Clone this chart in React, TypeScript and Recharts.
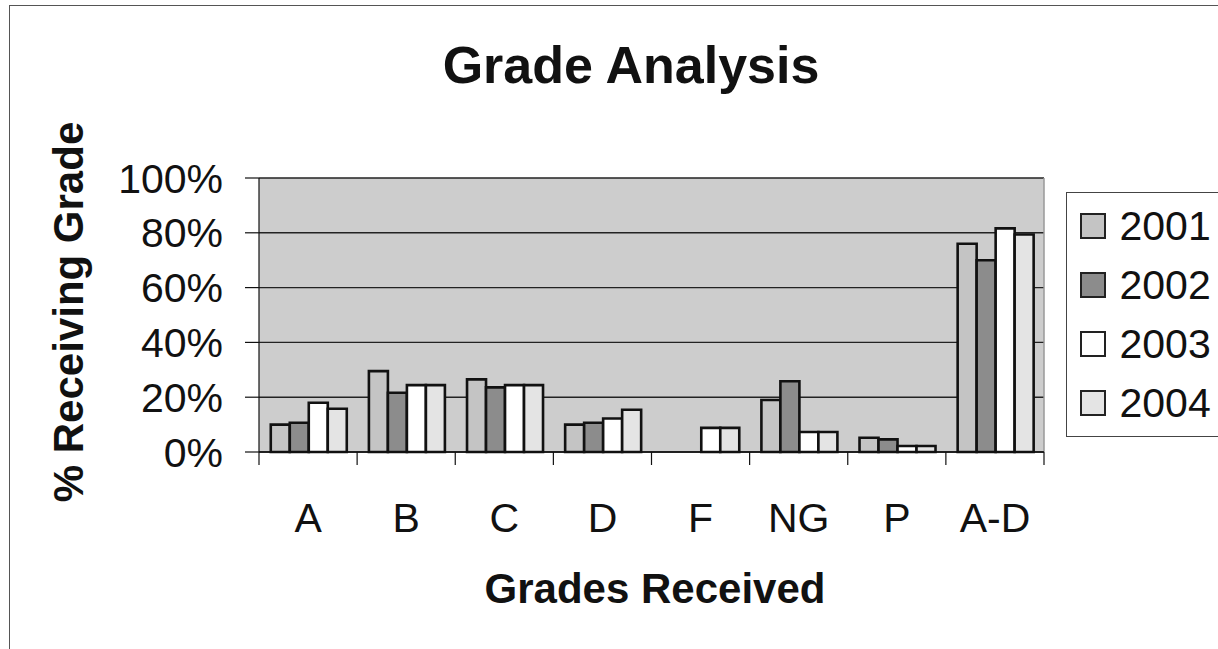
import React from 'react';
import { BarChart, Bar, XAxis, YAxis, CartesianGrid, Legend, ReferenceLine } from 'recharts';

const categories = ['A', 'B', 'C', 'D', 'F', 'NG', 'P', 'A-D'];
const series2001 = [10, 29.5, 26.5, 10, 0, 19, 5.2, 76];
const series2002 = [10.7, 21.6, 23.6, 10.7, 0, 25.8, 4.6, 70];
const series2003 = [18, 24.4, 24.4, 12.2, 8.8, 7.3, 2.2, 81.6];
const series2004 = [15.8, 24.4, 24.4, 15.4, 8.8, 7.3, 2.2, 79.4];
const seriesNames = ['2001', '2002', '2003', '2004'];
const seriesKeys = ['y2001', 'y2002', 'y2003', 'y2004'];
const seriesColors = ['#c4c4c4', '#8c8c8c', '#ffffff', '#e4e4e4'];
const yTicks = [0, 20, 40, 60, 80, 100];

const data = categories.map((grade, i) => ({
  grade,
  y2001: series2001[i],
  y2002: series2002[i],
  y2003: series2003[i],
  y2004: series2004[i],
}));

const FONT = '"Liberation Sans", Arial, Helvetica, sans-serif';
const TICK_MARGIN = 51;

const CategoryTick = (props: any) => {
  const { x, y, payload, width, visibleTicksCount, index } = props;
  const bw = payload && payload.offset ? payload.offset * 2 : width / visibleTicksCount;
  const axisY = y - TICK_MARGIN;
  return (
    <g>
      <line x1={x - bw / 2} x2={x - bw / 2} y1={axisY} y2={axisY + 13} stroke="#111" strokeWidth={1.2} />
      {index === visibleTicksCount - 1 && (
        <line x1={x + bw / 2} x2={x + bw / 2} y1={axisY} y2={axisY + 13} stroke="#111" strokeWidth={1.2} />
      )}
      <text x={x} y={y} dy="0.71em" textAnchor="middle" fontSize={41} fontFamily={FONT} fill="#111">
        {payload.value}
      </text>
    </g>
  );
};

const renderLegend = () => (
  <div
    style={{
      width: 200,
      height: 245,
      boxSizing: 'border-box',
      borderTop: '1.5px solid #444',
      borderLeft: '1.5px solid #444',
      borderBottom: '1.5px solid #444',
      background: '#fff',
      paddingTop: 3,
    }}
  >
    {seriesNames.map((n, i) => (
      <div key={n} style={{ height: 59, display: 'flex', alignItems: 'center' }}>
        <span
          style={{
            display: 'inline-block',
            width: 26,
            height: 26,
            boxSizing: 'border-box',
            border: '2px solid #222',
            background: seriesColors[i],
            marginLeft: 12.5,
          }}
        />
        <span style={{ marginLeft: 14, fontSize: 41, fontFamily: FONT, color: '#111', lineHeight: '40px' }}>{n}</span>
      </div>
    ))}
  </div>
);

export default function App() {
  return (
    <div style={{ position: 'absolute', left: 0, top: 0, width: 1218, height: 649, overflow: 'hidden', background: '#fff' }}>
      <div
        style={{
          position: 'absolute',
          left: 9,
          top: 5,
          width: 1300,
          height: 700,
          borderLeft: '1.5px solid #555',
          borderTop: '1.5px solid #555',
        }}
      />
      <BarChart
        width={1218}
        height={649}
        data={data}
        margin={{ top: 178, right: 174, bottom: 97, left: 0 }}
        barCategoryGap="12%"
        barGap={0}
        style={{ position: 'absolute', left: 0, top: 0 }}
      >
        <CartesianGrid vertical={false} fill="#cdcdcd" fillOpacity={1} stroke="#222" strokeWidth={1.4} />
        <XAxis
          dataKey="grade"
          height={100}
          interval={0}
          axisLine={{ stroke: '#111', strokeWidth: 1.4 }}
          tickLine={false}
          tickSize={0}
          tickMargin={TICK_MARGIN}
          tick={<CategoryTick />}
        />
        <YAxis
          width={259}
          domain={[0, 100]}
          ticks={yTicks}
          interval={0}
          tickFormatter={(v: number) => `${v}%`}
          tickSize={14}
          tickMargin={22}
          axisLine={{ stroke: '#111', strokeWidth: 1.2 }}
          tickLine={{ stroke: '#111', strokeWidth: 1.2 }}
          tick={{ fontSize: 41, fontFamily: FONT, fill: '#111' }}
        />
        <ReferenceLine x="A-D" position="end" stroke="#999" strokeWidth={1.5} />
        {seriesKeys.map((k, i) => (
          <Bar
            key={k}
            dataKey={k}
            name={seriesNames[i]}
            fill={seriesColors[i]}
            stroke="#111"
            strokeWidth={2.6}
            isAnimationActive={false}
          />
        ))}
        <Legend
          layout="horizontal"
          align="center"
          verticalAlign="middle"
          content={renderLegend}
          wrapperStyle={{ left: 1066, top: 192, width: 200, height: 245 }}
        />
        <text x={631} y={83} textAnchor="middle" fontSize={52} fontWeight="bold" fontFamily={FONT} fill="#111">
          Grade Analysis
        </text>
        <text
          x={83}
          y={312}
          transform="rotate(-90, 83, 312)"
          textAnchor="middle"
          fontSize={42}
          fontWeight="bold"
          fontFamily={FONT}
          fill="#111"
        >
          % Receiving Grade
        </text>
        <text x={655} y={603} textAnchor="middle" fontSize={42} fontWeight="bold" fontFamily={FONT} fill="#111">
          Grades Received
        </text>
      </BarChart>
    </div>
  );
}
